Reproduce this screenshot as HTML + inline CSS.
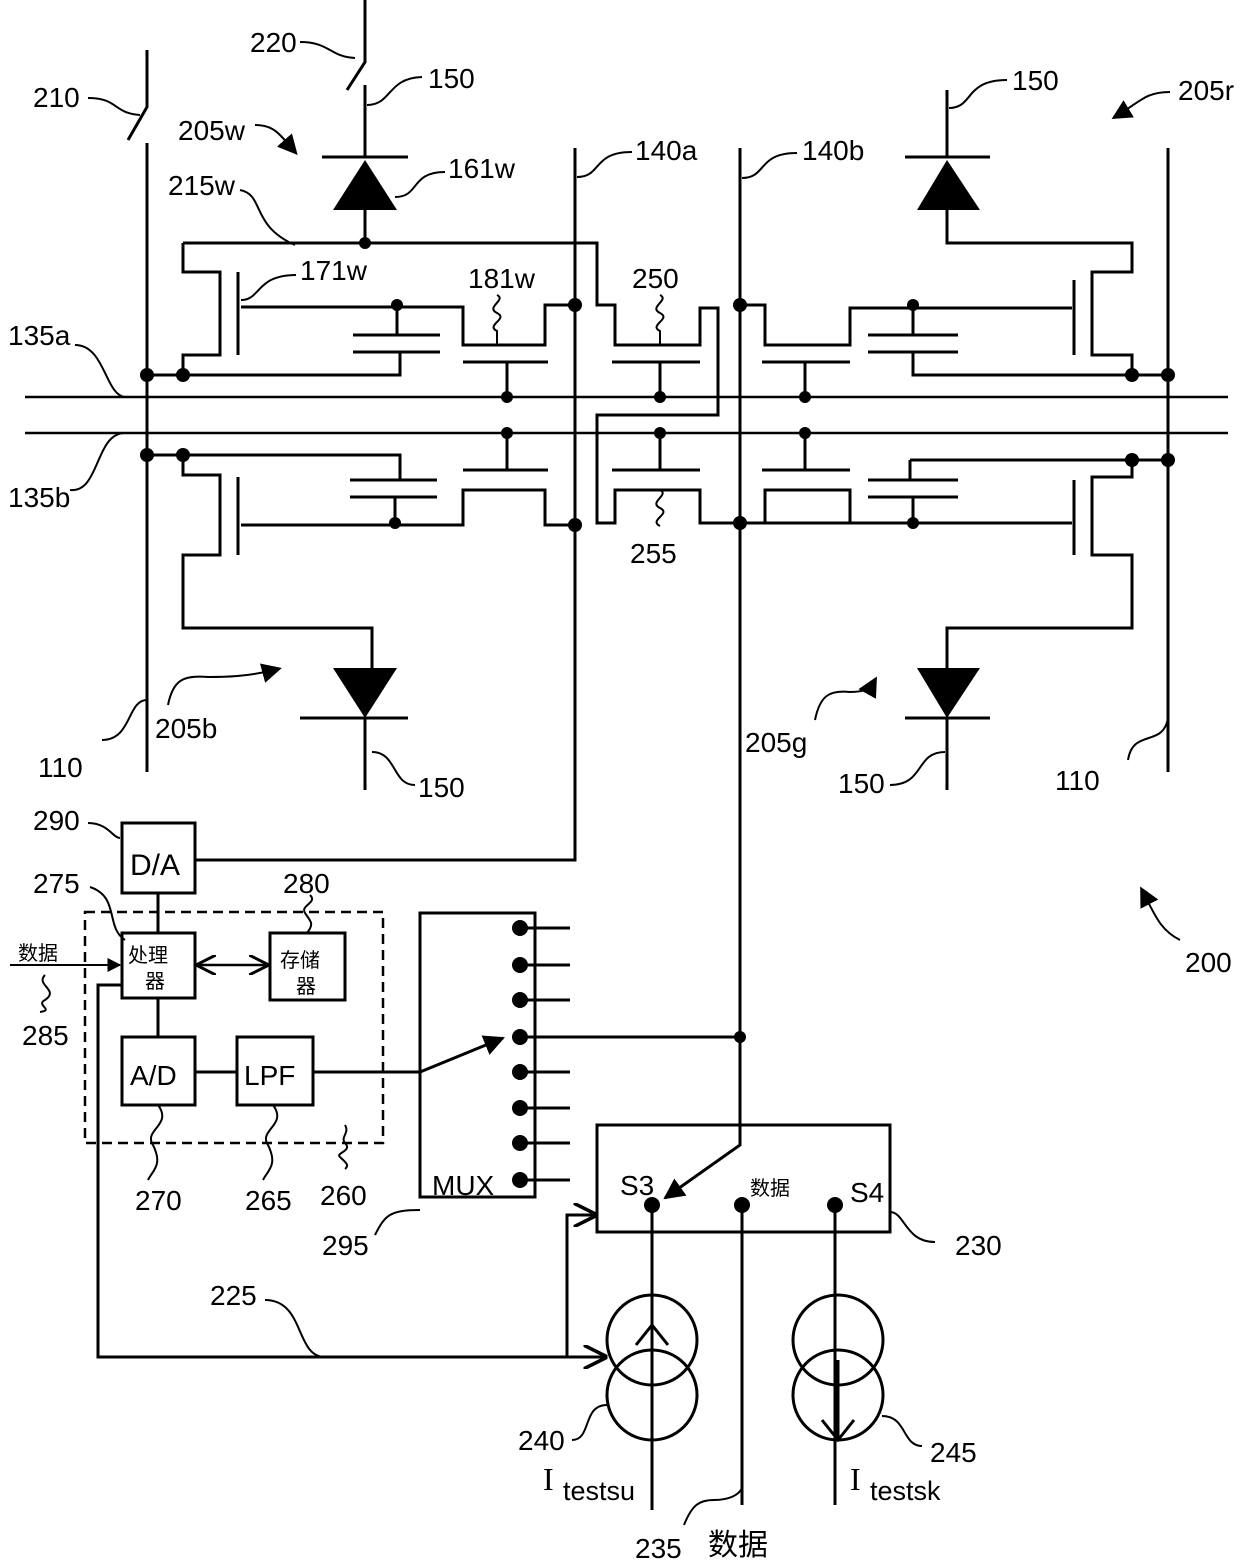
<!DOCTYPE html>
<html><head><meta charset="utf-8"><style>
html,body{margin:0;padding:0;background:#fff}
svg{display:block}
text{font-family:"Liberation Sans","Noto Sans CJK SC",sans-serif;font-size:28px;fill:#000}
.cj{font-family:"Noto Sans CJK SC",sans-serif}
</style></head><body>
<svg width="1240" height="1561" viewBox="0 0 1240 1561" xmlns="http://www.w3.org/2000/svg">
<defs>
<marker id="ah" viewBox="0 0 10 10" refX="9" refY="5" markerWidth="7" markerHeight="7" orient="auto"><path d="M0,0L10,5L0,10z" fill="#000"/></marker>
<marker id="ah2" viewBox="0 0 10 10" refX="8" refY="5" markerWidth="20" markerHeight="20" orient="auto" markerUnits="userSpaceOnUse"><path d="M0,0L10,5L0,10z" fill="#000"/></marker>
<marker id="oh" viewBox="0 0 10 10" refX="9" refY="5" markerWidth="8" markerHeight="8" orient="auto-start-reverse"><path d="M0,0L10,5L0,10" fill="none" stroke="#000" stroke-width="1.5"/></marker>
</defs>
<g stroke="#000" stroke-width="3" fill="none">
<path d="M147,50V107L128,140M147,143V772"/>
<path d="M365,0V62L347,90M365,85V157"/>
<path d="M575,148V860H195"/>
<path d="M740,148V1145L665,1198" marker-end="url(#ah)"/>
<path d="M1168,148V772"/>
<path d="M947,90V157"/>
<path d="M25,397H1228M25,433H1228" stroke-width="2.5"/>
<path d="M322,157H408M365,210V243M365,790V718M300,718H408" />
<path d="M183,243H597V305H615V345H700V308H718V415H597V523H615V490H700V523H740"/>
<path d="M183,243V272H220V355H183V375M238,272V355M241,307H463V345H545V305H575"/>
<path d="M397,305V335M353,335H440M353,352H440M400,352V375H147"/>
<path d="M463,362H548M507,362V397"/>
<path d="M147,455H400V480M350,480H437M350,497H437M395,497V523"/>
<path d="M183,455V475H220V555H183V628H372V668M238,477V555M241,525H463V490H545V525H575"/>
<path d="M463,470H548M507,433V470"/>
<path d="M612,362H700M660,362V397M612,470H700M660,433V470"/>
<path d="M740,305H765V345H850V308H1072M913,305V335M868,335H958M868,352H958M913,352V375H1168"/>
<path d="M762,362H850M805,362V397M1074,280V355"/>
<path d="M947,210V243H1132V272H1092V355H1132V375M905,157H990"/>
<path d="M910,460H1168M910,460V480M868,480H958M868,497H958M913,497V523M765,523H1072M740,523H765V490H850V523"/>
<path d="M762,470H850M805,433V470M1074,480V555"/>
<path d="M1132,460V477H1092V555H1132V628H947V668M905,718H990M947,718V790"/>
<path d="M497,295c10,5 -12,12 0,18c12,6 -12,12 0,18v14M660,295c10,5 -12,12 0,18c12,6 -12,12 0,18v14M660,490c10,5 -12,12 0,18c12,6 -12,12 0,18" stroke-width="2"/>
<rect x="122" y="823" width="73" height="70"/>
<rect x="122" y="933" width="73" height="65"/>
<rect x="270" y="933" width="75" height="67"/>
<rect x="122" y="1037" width="73" height="68"/>
<rect x="237" y="1037" width="76" height="68"/>
<rect x="85" y="912" width="298" height="231" stroke-dasharray="10,6" stroke-width="2.5"/>
<rect x="420" y="913" width="115" height="284"/>
<rect x="597" y="1125" width="293" height="107"/>
<path d="M158,893V933M158,998V1037M195,1072H237M313,1072H420" />
<path d="M420,1072L503,1038" marker-end="url(#ah)"/>
<path d="M198,965H267" marker-end="url(#oh)" marker-start="url(#oh)" stroke-width="2.5"/>
<path d="M520,928H570M520,965H570M520,1000H570M520,1037H740M520,1072H570M520,1108H570M520,1143H570M520,1180H570"/>
<path d="M10,965H120" marker-end="url(#ah)" stroke-width="2"/>
<path d="M122,985H98V1357H605" marker-end="url(#oh)"/>
<path d="M567,1357V1215H595" marker-end="url(#oh)"/>
<path d="M652,1205V1510M742,1205V1505M835,1205V1505"/>
<circle cx="652" cy="1340" r="45"/><circle cx="652" cy="1395" r="45"/>
<circle cx="838" cy="1340" r="45"/><circle cx="838" cy="1395" r="45"/>
<path d="M652,1420V1328M636,1345L652,1325L668,1345M838,1360V1440M822,1420L838,1440L854,1420"/>
<g stroke-width="2">
<path d="M300,42c30,0 30,15 55,16"/>
<path d="M88,98c30,0 25,15 52,17"/>
<path d="M367,105c25,0 20,-27 55,-28"/>
<path d="M255,125c20,0 25,10 40,27" marker-end="url(#ah2)"/>
<path d="M395,197c25,0 15,-25 50,-25"/>
<path d="M240,190c25,5 10,35 55,55"/>
<path d="M241,300c20,0 15,-25 55,-25"/>
<path d="M577,177c25,0 15,-25 55,-25"/>
<path d="M742,178c25,0 15,-25 55,-25"/>
<path d="M949,108c25,0 15,-28 58,-28"/>
<path d="M1170,92c-25,0 -30,10 -55,25" marker-end="url(#ah2)"/>
<path d="M75,345c30,0 30,50 50,52"/>
<path d="M125,433c-30,0 -25,60 -55,57"/>
<path d="M147,700c-20,0 -15,40 -45,40"/>
<path d="M168,705c5,-25 15,-30 40,-28c15,0 40,0 70,-8" marker-end="url(#ah2)"/>
<path d="M372,752c25,0 20,33 43,33"/>
<path d="M815,720c5,-25 15,-30 35,-28c15,0 20,-3 25,-12" marker-end="url(#ah2)"/>
<path d="M945,752c-30,0 -20,33 -55,33"/>
<path d="M1168,718c-5,30 -35,10 -40,42"/>
<path d="M88,823c20,0 25,15 32,15"/>
<path d="M90,887c30,10 15,40 35,53"/>
<path d="M310,895c8,8 -10,10 -5,18c5,8 10,10 2,20"/>
<path d="M45,975c-10,10 15,15 0,25c-10,5 10,10 -5,12"/>
<path d="M158,1105c15,20 -15,25 -5,40c10,20 0,25 -5,35"/>
<path d="M273,1105c15,20 -15,25 -5,40c10,20 0,25 -5,35"/>
<path d="M345,1125c5,8 -5,12 0,18c8,8 -10,10 -5,14c5,5 10,8 5,12"/>
<path d="M375,1235c10,-20 15,-25 45,-25"/>
<path d="M1180,940c-20,-10 -25,-25 -38,-50" marker-end="url(#ah2)"/>
<path d="M265,1300c40,0 30,57 60,57"/>
<path d="M890,1212c15,0 15,30 45,30"/>
<path d="M572,1440c20,0 10,-35 35,-35"/>
<path d="M922,1446c-20,0 -15,-30 -40,-30"/>
<path d="M684,1525c8,-20 15,-25 30,-25c15,0 25,-5 28,-12"/>
</g>
</g>
<g fill="#000">
<path d="M365,160L397,210H333z"/>
<path d="M947,160L980,210H917z"/>
<path d="M333,668H397L365,718z"/>
<path d="M917,668H980L947,718z"/>
<circle cx="365" cy="243" r="6"/><circle cx="147" cy="375" r="7"/><circle cx="183" cy="375" r="7"/>
<circle cx="397" cy="305" r="6"/><circle cx="507" cy="397" r="6"/><circle cx="575" cy="305" r="7"/>
<circle cx="147" cy="455" r="7"/><circle cx="183" cy="455" r="7"/><circle cx="395" cy="523" r="6"/>
<circle cx="507" cy="433" r="6"/><circle cx="575" cy="525" r="7"/>
<circle cx="660" cy="397" r="6"/><circle cx="660" cy="433" r="6"/>
<circle cx="740" cy="305" r="7"/><circle cx="740" cy="523" r="7"/>
<circle cx="913" cy="305" r="6"/><circle cx="805" cy="397" r="6"/><circle cx="805" cy="433" r="6"/>
<circle cx="913" cy="523" r="6"/><circle cx="1132" cy="375" r="7"/><circle cx="1168" cy="375" r="7"/>
<circle cx="1132" cy="460" r="7"/><circle cx="1168" cy="460" r="7"/>
<circle cx="520" cy="928" r="8"/><circle cx="520" cy="965" r="8"/><circle cx="520" cy="1000" r="8"/>
<circle cx="520" cy="1037" r="8"/><circle cx="520" cy="1072" r="8"/><circle cx="520" cy="1108" r="8"/>
<circle cx="520" cy="1143" r="8"/><circle cx="520" cy="1180" r="8"/>
<circle cx="740" cy="1037" r="6"/>
<circle cx="652" cy="1205" r="8"/><circle cx="742" cy="1205" r="8"/><circle cx="835" cy="1205" r="8"/>
</g>
<text x="250" y="52">220</text>
<text x="33" y="107">210</text>
<text x="428" y="88">150</text>
<text x="178" y="140">205w</text>
<text x="448" y="178">161w</text>
<text x="168" y="195">215w</text>
<text x="300" y="280">171w</text>
<text x="468" y="288">181w</text>
<text x="635" y="160">140a</text>
<text x="802" y="160">140b</text>
<text x="1012" y="90">150</text>
<text x="1178" y="100">205r</text>
<text x="632" y="288">250</text>
<text x="8" y="345">135a</text>
<text x="8" y="507">135b</text>
<text x="630" y="563">255</text>
<text x="38" y="777">110</text>
<text x="155" y="738">205b</text>
<text x="418" y="797">150</text>
<text x="745" y="752">205g</text>
<text x="838" y="793">150</text>
<text x="1055" y="790">110</text>
<text x="33" y="830">290</text>
<text x="130" y="875" style="font-size:30px">D/A</text>
<text x="33" y="893">275</text>
<text x="283" y="893">280</text>
<text x="128" y="962" class="cj" style="font-size:20px">处理</text>
<text x="145" y="988" class="cj" style="font-size:20px">器</text>
<text x="280" y="967" class="cj" style="font-size:20px">存储</text>
<text x="296" y="993" class="cj" style="font-size:20px">器</text>
<text x="18" y="960" class="cj" style="font-size:20px">数据</text>
<text x="22" y="1045">285</text>
<text x="130" y="1085" style="font-size:28px">A/D</text>
<text x="244" y="1085" style="font-size:28px">LPF</text>
<text x="135" y="1210">270</text>
<text x="245" y="1210">265</text>
<text x="320" y="1205">260</text>
<text x="322" y="1255">295</text>
<text x="432" y="1195">MUX</text>
<text x="1185" y="972">200</text>
<text x="620" y="1195">S3</text>
<text x="750" y="1195" class="cj" style="font-size:20px">数据</text>
<text x="850" y="1202">S4</text>
<text x="955" y="1255">230</text>
<text x="210" y="1305">225</text>
<text x="518" y="1450">240</text>
<text x="930" y="1462">245</text>
<text x="543" y="1490" style="font-family:'Liberation Serif',serif;font-size:32px">I</text>
<text x="563" y="1500" style="font-size:27px">testsu</text>
<text x="850" y="1490" style="font-family:'Liberation Serif',serif;font-size:32px">I</text>
<text x="870" y="1500" style="font-size:27px">testsk</text>
<text x="635" y="1558">235</text>
<text x="708" y="1555" class="cj" style="font-size:30px">数据</text>
</svg>
</body></html>
